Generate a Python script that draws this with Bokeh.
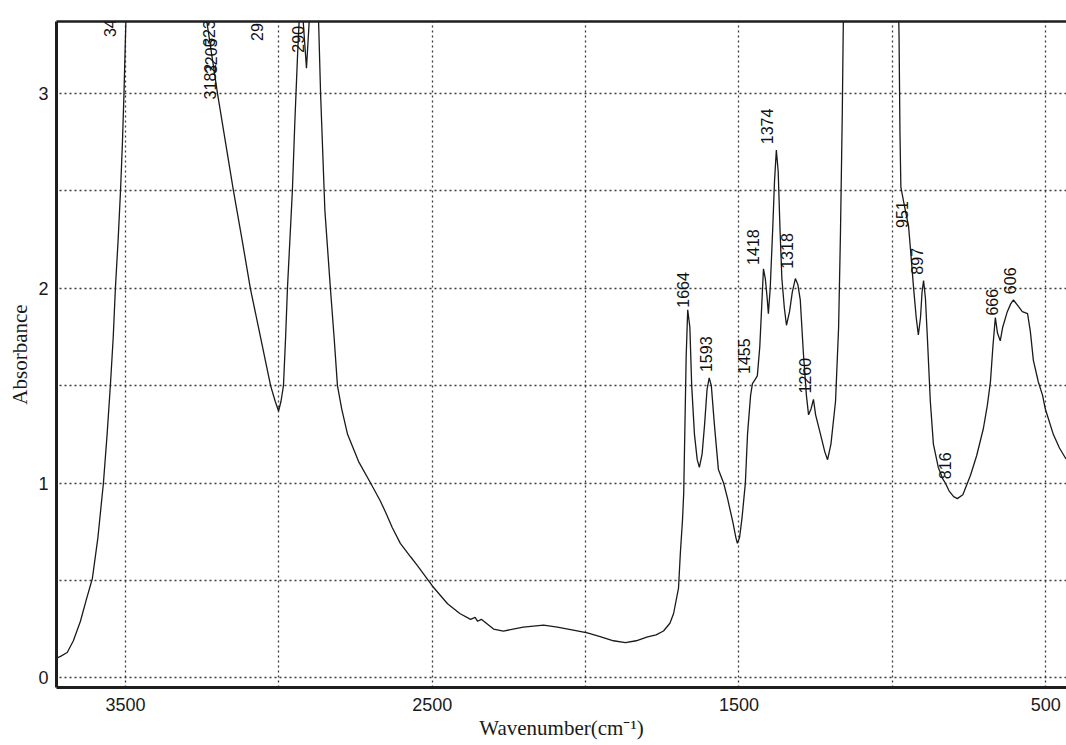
import numpy as np
from bokeh.plotting import figure
from bokeh.models import Range1d, FixedTicker, LinearAxis, ColumnDataSource
from bokeh.embed import file_html
from bokeh.resources import INLINE
from bokeh.core.properties import value

# ---- spectrum (wavenumber cm-1, absorbance) ----
wavenumber = [
    3725, 3712, 3690, 3670, 3647, 3628, 3608, 3590, 3572, 3560, 3549, 3540, 3533,
    3524, 3516, 3510, 3505, 3500, 3495, 3480, 3245,
    3235, 3200, 3148, 3120, 3093, 3060, 3027, 3012, 3001, 2993, 2985, 2978, 2972,
    2964, 2956, 2948, 2939, 2930, 2922, 2910, 2900, 2893, 2878,
    2871, 2864, 2850, 2841, 2832, 2820, 2809, 2795, 2776, 2740, 2701, 2670, 2652,
    2630, 2604, 2570, 2550, 2499, 2450, 2410, 2375, 2360, 2352, 2340, 2300, 2268,
    2203, 2137, 2092, 2040, 1994, 1950, 1909, 1870, 1835, 1798, 1770, 1746, 1725,
    1713, 1697, 1691, 1684, 1680, 1676, 1672, 1667, 1660, 1654, 1645, 1636, 1629,
    1620, 1612, 1604, 1597, 1590, 1580, 1567, 1550, 1537, 1520, 1510, 1505, 1498,
    1490, 1479, 1472, 1462, 1456, 1448, 1440, 1432, 1426, 1420, 1414, 1408, 1404,
    1398, 1390, 1384, 1378, 1372, 1366, 1360, 1352, 1345, 1335, 1326, 1316, 1308,
    1300, 1290, 1280, 1273, 1265, 1257, 1250, 1234, 1220, 1211, 1200, 1185, 1175,
    1169, 1163, 1158, 1150, 990,
    985, 978, 975, 972, 960, 947, 938, 931, 922, 915, 908, 903, 898, 892, 886, 876,
    866, 850, 835, 827, 815, 800, 788, 770, 745, 725, 703, 690, 680, 672, 664, 657,
    648, 640, 625, 614, 605, 590, 576, 559, 550, 540, 524, 510, 501, 475, 455, 436,
    430,
]
absorbance = [
    0.10, 0.11, 0.13, 0.19, 0.29, 0.40, 0.51, 0.72, 1.00, 1.25, 1.51, 1.75, 2.00,
    2.25, 2.51, 2.75, 3.00, 3.30, 3.60, 3.90, 3.90,
    3.37, 3.00, 2.50, 2.25, 2.00, 1.75, 1.50, 1.42, 1.37, 1.42, 1.50, 1.75, 2.00,
    2.25, 2.50, 2.85, 3.20, 3.50, 3.40, 3.13, 3.40, 3.90, 3.90,
    3.40, 3.00, 2.40, 2.20, 2.00, 1.75, 1.50, 1.38, 1.25, 1.11, 1.00, 0.91, 0.85,
    0.77, 0.69, 0.62, 0.58, 0.47, 0.38, 0.33, 0.30, 0.31, 0.29, 0.30, 0.25, 0.24,
    0.26, 0.27, 0.26, 0.245, 0.23, 0.21, 0.19, 0.18, 0.19, 0.21, 0.22, 0.24, 0.28,
    0.33, 0.46, 0.64, 0.81, 0.95, 1.30, 1.65, 1.89, 1.80, 1.50, 1.25, 1.12, 1.08,
    1.15, 1.30, 1.48, 1.54, 1.50, 1.30, 1.07, 1.00, 0.92, 0.80, 0.72, 0.69, 0.72,
    0.82, 1.00, 1.25, 1.45, 1.51, 1.53, 1.55, 1.70, 1.90, 2.10, 2.05, 1.95, 1.87,
    2.00, 2.30, 2.55, 2.71, 2.60, 2.30, 2.05, 1.90, 1.81, 1.88, 1.98, 2.05, 2.02,
    1.94, 1.67, 1.45, 1.35, 1.38, 1.43, 1.35, 1.25, 1.16, 1.12, 1.20, 1.42, 1.80,
    2.28, 2.90, 3.60, 3.90, 3.90,
    3.90, 3.30, 2.80, 2.52, 2.42, 2.32, 2.15, 2.01, 1.85, 1.76, 1.85, 1.98, 2.04,
    1.95, 1.76, 1.42, 1.20, 1.08, 1.02, 1.00, 0.96, 0.93, 0.92, 0.94, 1.04, 1.14,
    1.28, 1.40, 1.52, 1.70, 1.85, 1.77, 1.73, 1.80, 1.88, 1.92, 1.94, 1.91, 1.88,
    1.87, 1.78, 1.63, 1.52, 1.45, 1.38, 1.25, 1.18, 1.13, 1.12,
]

# ---- peak annotations ----
peak_labels = ["34", "3182", "3205", "3232", "29", "290", "1664", "1593", "1455",
               "1418", "1374", "1318", "1260", "951", "897", "816", "666", "606"]
label_wn = [3549, 3225, 3220, 3228, 3070, 2939, 1681, 1606, 1485,
            1453, 1407, 1342, 1283, 967, 918, 827, 674, 615]
label_abs = [3.29, 2.97, 3.10, 3.24, 3.27, 3.21, 1.90, 1.57, 1.56,
             2.12, 2.74, 2.10, 1.46, 2.31, 2.07, 1.02, 1.86, 1.97]

# ---- ticks / grid ----
x_tick_values = [3500, 2500, 1500, 500]
y_tick_values = [0, 1, 2, 3]
x_grid_values = [3500, 3000, 2500, 2000, 1500, 1000, 500]
y_grid_values = [0, 0.5, 1.0, 1.5, 2.0, 2.5, 3.0]

p = figure(width=1066, height=745,
           x_range=Range1d(3725, 432), y_range=Range1d(-0.05, 3.37),
           output_backend="svg", toolbar_location=None,
           min_border_left=56, min_border_right=0, min_border_top=21,
           min_border_bottom=58,
           background_fill_color="white", border_fill_color="white",
           outline_line_color=None)

# grid
p.xgrid.ticker = FixedTicker(ticks=x_grid_values)
p.ygrid.ticker = FixedTicker(ticks=y_grid_values)
for g in (p.xgrid, p.ygrid):
    g.grid_line_color = "#3a3a3a"
    g.grid_line_width = 1.3
    g.grid_line_dash = "2 3"

# axes
p.xaxis.ticker = FixedTicker(ticks=x_tick_values)
p.yaxis.ticker = FixedTicker(ticks=y_tick_values)
for ax in (p.xaxis, p.yaxis):
    ax.axis_line_width = 3
    ax.axis_line_color = "#1e1e1e"
    ax.major_tick_line_color = None
    ax.minor_tick_line_color = None
    ax.major_tick_out = 0
    ax.major_tick_in = 0
    ax.minor_tick_out = 0
    ax.minor_tick_in = 0
    ax.major_label_text_font = "Liberation Sans"
    ax.major_label_text_font_size = "18px"
    ax.major_label_text_color = "#1a1a1a"
    ax.axis_label_text_font = "Liberation Serif"
    ax.axis_label_text_font_size = "21px"
    ax.axis_label_text_font_style = "normal"
    ax.axis_label_text_color = "#1a1a1a"
p.xaxis.major_label_standoff = 10
p.yaxis.major_label_standoff = 8
p.xaxis.axis_label = "Wavenumber(cm\u207b\u00b9)"
p.yaxis.axis_label = "Absorbance"
p.xaxis.axis_label_standoff = 2
p.yaxis.axis_label_standoff = 3

top = LinearAxis(ticker=FixedTicker(ticks=[]), axis_line_width=2.5,
                 axis_line_color="#1e1e1e", major_tick_line_color=None,
                 minor_tick_line_color=None, major_label_text_font_size="0px",
                 major_tick_out=0, minor_tick_out=0)
p.add_layout(top, "above")

# spectrum
src = ColumnDataSource(dict(x=wavenumber, y=absorbance))
p.line("x", "y", source=src, line_color="#1a1a1a", line_width=1.3)

# peak labels
lab = ColumnDataSource(dict(x=label_wn, y=label_abs, t=peak_labels))
p.text(x="x", y="y", text="t", source=lab, angle=np.pi / 2,
       text_align="left", text_baseline="middle",
       text_font=value("Liberation Sans"), text_font_size=value("16px"),
       text_color="#111111")

open("out.html", "w").write(file_html(p, INLINE))
